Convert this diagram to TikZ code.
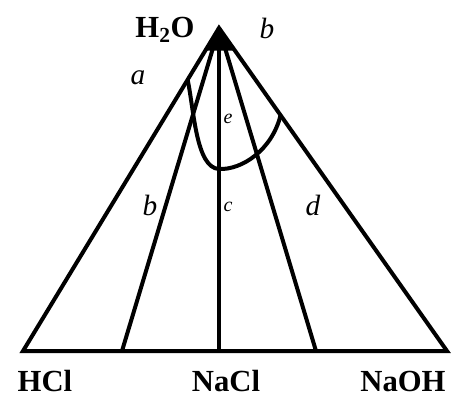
\documentclass[tikz,border=0pt]{standalone}
\usepackage{fontspec}
\setmainfont{Liberation Serif}
\usetikzlibrary{calc}

\begin{document}
\begin{tikzpicture}[x=0.75pt,y=-0.75pt,
  edge/.style={draw=black, line width=3pt, line join=miter},
  chem/.style={font=\fontsize{23}{23}\selectfont\bfseries, inner sep=0pt},
  lett/.style={font=\fontsize{22}{22}\selectfont\itshape, inner sep=0pt},
  small/.style={font=\fontsize{15}{15}\selectfont\itshape, inner sep=0pt}]
  \useasboundingbox (0,0) rectangle (456,397);
  % corners and feet
  \coordinate (W) at (219,28);
  \coordinate (A) at (23,351);
  \coordinate (B) at (447,351);
  \coordinate (F1) at (122,351);
  \coordinate (F2) at (219,351);
  \coordinate (F3) at (316,351);
  % sides and base
  \draw[edge] (A) -- (W) -- (B) -- cycle;
  \foreach \f in {F1,F2,F3}
    \draw[edge] (W) -- (\f);
  \fill (W) -- ($(W)!0.07!(A)$) -- ($(W)!0.07!(B)$) -- cycle;
  % curve
  \coordinate (S) at ($(W)!0.16!(A)$);
  \coordinate (E) at ($(W)!0.27!(B)$);
  \draw[edge] (S) .. controls (194,110) and (196,168) .. (219,169)
    .. controls (242,170) and (272,150) .. (E);
  % labels
  \node[chem] (h2o) at (165,30) {H\textsubscript{2}O};
  \node[chem] (hcl) at (45,381) {HCl};
  \node[chem] (nacl) at (226,381) {NaCl};
  \node[chem] (naoh) at (403,381) {NaOH};
  \node[lett] (lb1) at (267,28) {b};
  \node[lett] (la) at (138,78) {a};
  \node[small] (le) at (228,119) {e};
  \node[lett] (lb2) at (150,205) {b};
  \node[small] (lc) at (228,207) {c};
  \node[lett] (ld) at (313,205) {d};
\end{tikzpicture}
\end{document}
